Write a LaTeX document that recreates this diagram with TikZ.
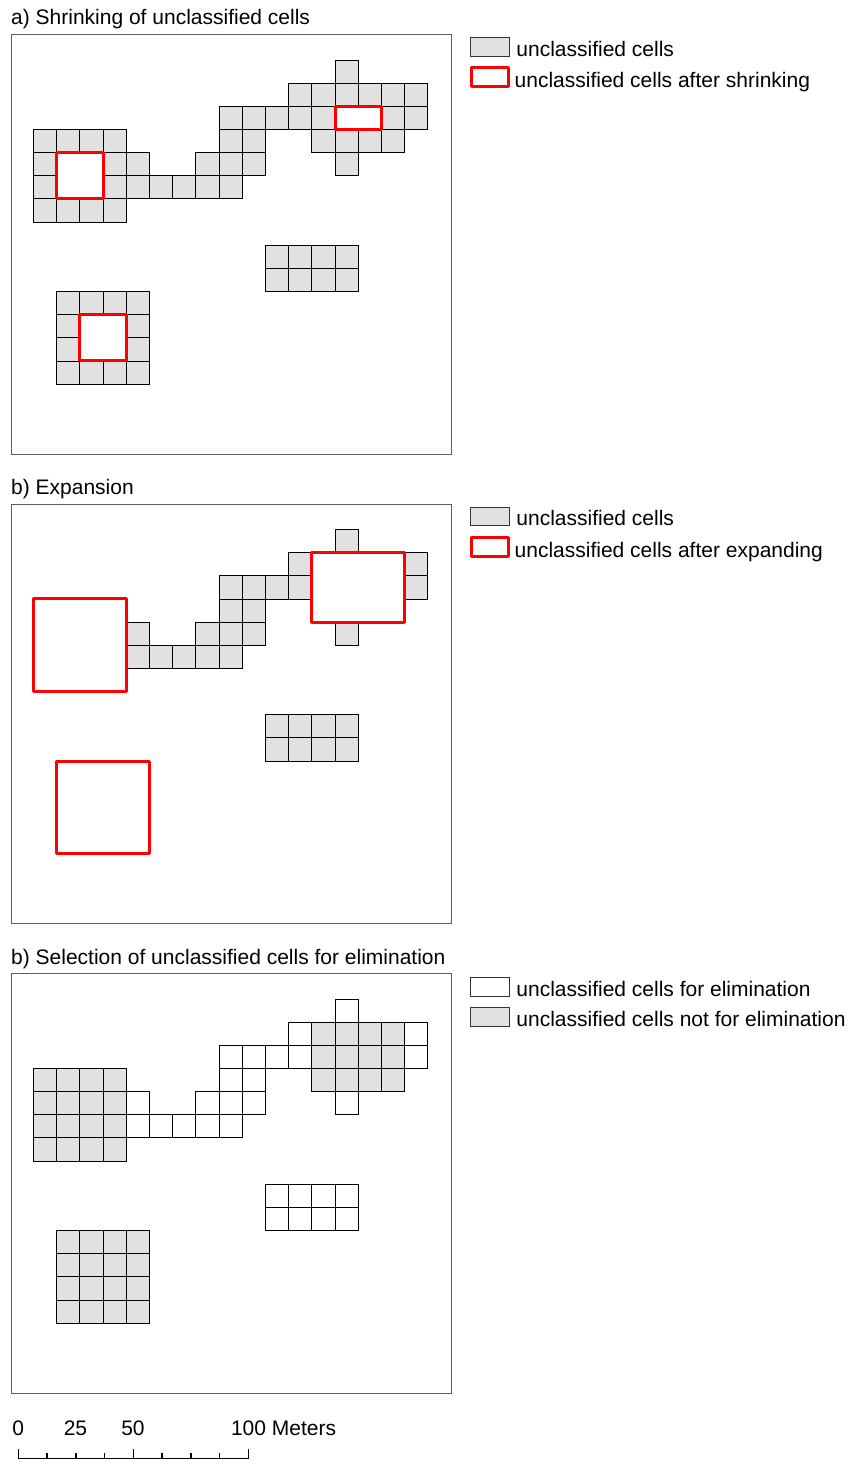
\documentclass[tikz,border=0pt]{standalone}
\usepackage{fontspec}
\setmainfont{Liberation Sans}
\usetikzlibrary{positioning,calc}

\definecolor{cellgray}{RGB}{225,225,225}
\definecolor{framegray}{RGB}{95,95,95}

\tikzset{
  cell/.style={draw=black, fill=cellgray, line width=0.9pt},
  elimcell/.style={draw=black, fill=white, line width=0.9pt},
  redbox/.style={draw=red, fill=white, line width=3pt, line join=round},
  mapframe/.style={draw=framegray, line width=1pt},
  graykey/.style={draw=black!80, fill=cellgray, line width=0.8pt, minimum width=39pt, minimum height=18.5pt, inner sep=0pt, outer sep=0pt},
  whitekey/.style={graykey, fill=white},
  redkey/.style={draw=red, fill=white, line width=3pt, line join=round, minimum width=37pt, minimum height=19pt, inner sep=0pt, outer sep=0pt},
  txt/.style={inner sep=0pt, anchor=base west, font=\fontsize{21}{25}\selectfont},
  scaletxt/.style={txt, anchor=base},
  scalebar/.style={draw=black, line width=1.6pt}
}

% row/first col/last col of the unclassified cells
\newcommand{\allrows}{0/13/13, 1/11/16, 2/8/16, 3/0/3, 3/8/9, 3/12/15, 4/0/4, 4/7/9, 4/13/13, 5/0/8, 6/0/3, 8/10/13, 9/10/13, 10/1/4, 11/1/4, 12/1/4, 13/1/4}
\newcommand{\cellrows}[2]{%
  \edef\rowlist{#2}%
  \foreach \r/\a/\b in \rowlist {\foreach \c in {\a,...,\b}{\draw[#1] (\c,\r) rectangle ++(1,1);}}}

\begin{document}
\begin{tikzpicture}[x=1pt,y=1pt,yscale=-1,xscale=1]
\useasboundingbox (0,0) rectangle (854,1464);

%======a) Shrinking=========
\node[txt] (titleA) at (11,25) {a) Shrinking of unclassified cells};
\draw[mapframe] (11.5,34.7) rectangle (451.7,454);
\begin{scope}[shift={(33.4,60)}, x=23.2pt, y=23.15pt]
  \cellrows{cell}{\allrows}
  \draw[redbox] (1,4) rectangle (3,6);
  \draw[redbox] (13,2) rectangle (15,3);
  \draw[redbox] (2,11) rectangle (4,13);
\end{scope}
\node[graykey] (keyA1) at (489.7,47) {};
\node[txt] (legA1) at ([xshift=7pt]keyA1.south east) {unclassified cells};
\node[redkey] (keyA2) at (490,77) {};
\node[txt] (legA2) at ([xshift=6pt,yshift=1.5pt]keyA2.south east) {unclassified cells after shrinking};

%======b) Expansion=========
\begin{scope}[shift={(0,469.5)}]
\node[txt] (titleB) at (11,25) {b) Expansion};
\draw[mapframe] (11.5,34.7) rectangle (451.7,454);
\begin{scope}[shift={(33.4,60)}, x=23.2pt, y=23.15pt]
  \cellrows{cell}{\allrows}
  \draw[redbox] (0,3) rectangle (4,7);
  \draw[redbox] (12,1) rectangle (16,4);
  \draw[redbox] (1,10) rectangle (5,14);
\end{scope}
\node[graykey] (keyB1) at (489.7,47) {};
\node[txt] (legB1) at ([xshift=7pt]keyB1.south east) {unclassified cells};
\node[redkey] (keyB2) at (490,77) {};
\node[txt] (legB2) at ([xshift=6pt,yshift=1.5pt]keyB2.south east) {unclassified cells after expanding};
\end{scope}

%======c) Selection=========
\begin{scope}[shift={(0,939)}]
\node[txt] (titleC) at (11,25) {b) Selection of unclassified cells for elimination};
\draw[mapframe] (11.5,34.7) rectangle (451.7,454);
\begin{scope}[shift={(33.4,60)}, x=23.2pt, y=23.15pt]
  \cellrows{elimcell}{\allrows}
  \cellrows{cell}{3/0/3, 4/0/3, 5/0/3, 6/0/3, 1/12/15, 2/12/15, 3/12/15, 10/1/4, 11/1/4, 12/1/4, 13/1/4}
\end{scope}
\node[whitekey] (keyC1) at (489.7,48) {};
\node[txt] (legC1) at ([xshift=7pt]keyC1.south east) {unclassified cells for elimination};
\node[graykey] (keyC2) at (489.7,78) {};
\node[txt] (legC2) at ([xshift=7pt]keyC2.south east) {unclassified cells not for elimination};
\end{scope}

%======Scale bar=========
\coordinate (bar0) at (18.3,1458.5);
\coordinate (bar100) at (248.3,1458.5);
\draw[scalebar] (bar0) -- (bar100);
\foreach \i in {0,...,8}{
  \pgfmathsetmacro{\tk}{mod(\i,4)==0 ? 9.5 : 6}
  \draw[scalebar] ($(bar0)!\i/8!(bar100)$) -- ++(0,-\tk);
}
\node[scaletxt] (sc0) at (18.3,1435) {0};
\node[scaletxt] (sc25) at (75.5,1435) {25};
\node[scaletxt] (sc50) at (133,1435) {50};
\node[txt] (sc100) at (230.8,1435) {100 Meters};

\end{tikzpicture}
\end{document}
